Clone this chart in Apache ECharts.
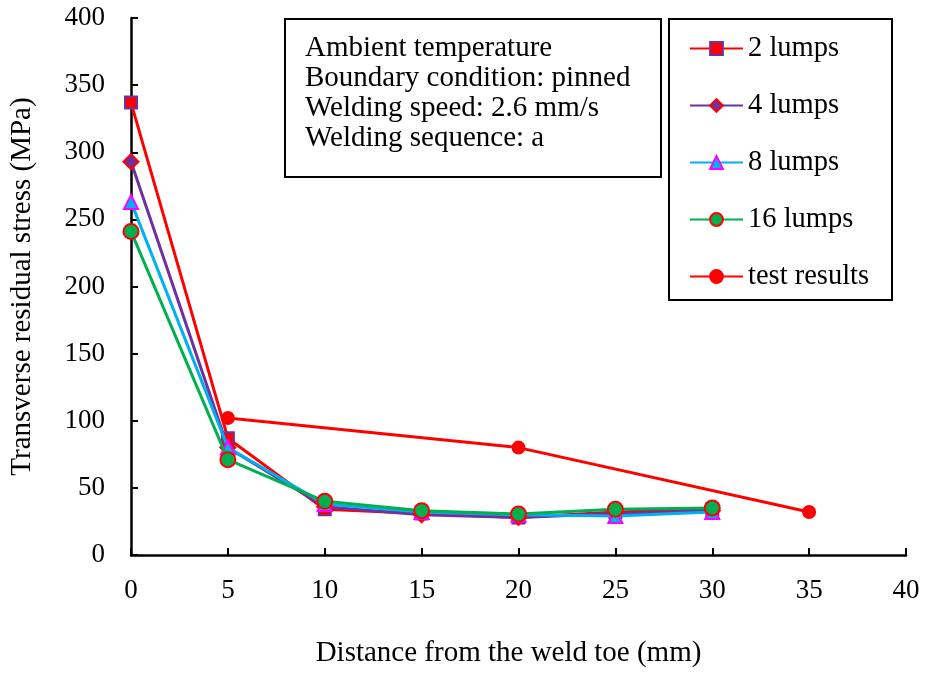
<!DOCTYPE html>
<html>
<head>
<meta charset="utf-8">
<script src="https://cdn.jsdelivr.net/npm/echarts@6/dist/echarts.min.js"></script>
<style>
  html, body { margin: 0; padding: 0; background: #fff; }
  #chart { width: 925px; height: 673px; }
</style>
</head>
<body>
<div id="chart"></div>
<script>
// Distance from the weld toe (mm)
const distances = [0, 5, 10, 15, 20, 25, 30];
const testDistances = [5, 20, 35];

// Transverse residual stress (MPa)
const lumps2 = [337, 87, 34, 31, 28, 32, 34];
const lumps4 = [293, 80, 36, 30, 28, 31, 33];
const lumps8 = [263, 80, 38, 32, 30, 29, 32];
const lumps16 = [241, 71, 40, 33, 30.5, 34, 35];
const testResults = [102, 80, 32];

const xTicks = [0, 5, 10, 15, 20, 25, 30, 35, 40];
const yTicks = [0, 50, 100, 150, 200, 250, 300, 350, 400];

const infoLines = [
  'Ambient temperature',
  'Boundary condition: pinned',
  'Welding speed: 2.6 mm/s',
  'Welding sequence: a'
];

const FONT = '"Liberation Serif", "Times New Roman", serif';

function pairs(xs, ys) {
  return xs.map((x, i) => [x, ys[i]]);
}

const chart = echarts.init(document.getElementById('chart'), null, { renderer: 'canvas' });

const seriesDefs = [
  { name: '2 lumps', xs: distances, ys: lumps2, line: '#FF0000', fill: '#FF0000', border: '#7030A0', symbol: 'rect', size: 12 },
  { name: '4 lumps', xs: distances, ys: lumps4, line: '#7030A0', fill: '#7030A0', border: '#FF0000', symbol: 'diamond', size: 15 },
  { name: '8 lumps', xs: distances, ys: lumps8, line: '#00B0F0', fill: '#00B0F0', border: '#FF00FF', symbol: 'triangle', size: 14 },
  { name: '16 lumps', xs: distances, ys: lumps16, line: '#00B050', fill: '#00B050', border: '#FF0000', symbol: 'circle', size: 15 },
  { name: 'test results', xs: testDistances, ys: testResults, line: '#FF0000', fill: '#FF0000', border: '#FF0000', symbol: 'circle', size: 12 }
];

const series = seriesDefs.map((d, i) => ({
  name: d.name,
  type: 'line',
  data: pairs(d.xs, d.ys),
  symbol: d.symbol,
  symbolSize: d.size,
  showAllSymbol: true,
  z: 2 + i,
  lineStyle: { color: d.line, width: 3 },
  itemStyle: { color: d.fill, borderColor: d.border, borderWidth: 2 },
  emphasis: { disabled: true },
  animation: false
}));

chart.setOption({
  backgroundColor: '#ffffff',
  animation: false,
  grid: { left: 130, right: 19, top: 18, bottom: 118, containLabel: false },
  xAxis: {
    type: 'value',
    min: 0, max: 40, interval: 5,
    name: 'Distance from the weld toe (mm)',
    nameLocation: 'middle',
    nameGap: 84,
    nameTextStyle: { fontFamily: FONT, fontSize: 29, color: '#000', padding: [0, 20, 0, 0] },
    axisLine: { show: true, onZero: false, lineStyle: { color: '#000', width: 2.5 } },
    axisTick: { show: true, inside: true, length: 7, lineStyle: { color: '#000', width: 2 } },
    axisLabel: { fontFamily: FONT, fontSize: 27, color: '#000', margin: 22,
      formatter: v => xTicks.includes(v) ? String(v) : '' },
    splitLine: { show: false }
  },
  yAxis: {
    type: 'value',
    min: 0, max: 400, interval: 50,
    name: 'Transverse residual stress (MPa)',
    nameLocation: 'middle',
    nameGap: 94,
    nameRotate: 90,
    nameTextStyle: { fontFamily: FONT, fontSize: 29, color: '#000' },
    axisLine: { show: true, lineStyle: { color: '#000', width: 2.5 } },
    axisTick: { show: true, inside: true, length: 7, lineStyle: { color: '#000', width: 2 } },
    axisLabel: { fontFamily: FONT, fontSize: 27, color: '#000', margin: 26,
      formatter: v => yTicks.includes(v) ? String(v) : '' },
    splitLine: { show: false }
  },
  legend: {
    orient: 'vertical',
    left: 689,
    top: 34,
    padding: 0,
    itemWidth: 53,
    itemHeight: 16,
    itemGap: 28,
    textStyle: { fontFamily: FONT, fontSize: 28.5, color: '#000', lineHeight: 28 },
    data: seriesDefs.map(d => d.name),
    selectedMode: false
  },
  graphic: [
    {
      type: 'rect',
      shape: { x: 669, y: 19, width: 223, height: 281 },
      style: { fill: '#fff', stroke: '#000', lineWidth: 2 },
      z: 1
    },
    {
      type: 'rect',
      shape: { x: 285, y: 19, width: 376, height: 158 },
      style: { fill: '#fff', stroke: '#000', lineWidth: 2 },
      z: 1
    },
    {
      type: 'text',
      left: 305,
      top: 33,
      z: 2,
      style: {
        text: infoLines.join('\n'),
        font: '29px ' + FONT,
        lineHeight: 30,
        fill: '#000'
      }
    }
  ],
  series: series
});
</script>
</body>
</html>
